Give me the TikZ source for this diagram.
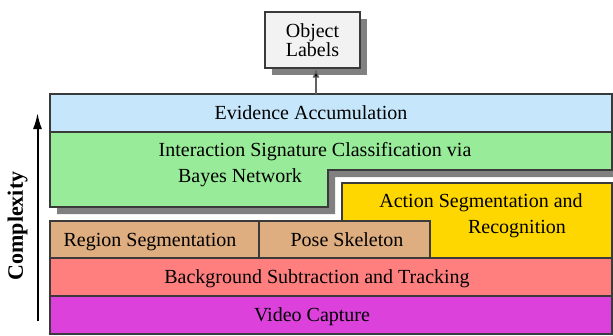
\documentclass[tikz,border=0pt]{standalone}
\usepackage{fontspec}
\setmainfont{Liberation Serif}
\usetikzlibrary{arrows.meta}
\usetikzlibrary{shadows}
\definecolor{evblue}{HTML}{C6E6FC}
\definecolor{isgreen}{HTML}{98EB98}
\definecolor{asyellow}{HTML}{FFD700}
\definecolor{segtan}{HTML}{DEAD80}
\definecolor{bgred}{HTML}{FF7F7F}
\definecolor{vidmag}{HTML}{DC41DC}
\definecolor{boxgray}{HTML}{F2F2F2}
\definecolor{shadegray}{HTML}{808080}
\definecolor{edgegray}{HTML}{3A3A3A}
\tikzset{Band/.style={fill=#1, draw=edgegray, line width=1.2pt},
         Label/.style={font=\fontsize{20}{22}\selectfont, inner sep=0pt, anchor=base},
         Shade/.style={drop shadow={shadow xshift=7pt, shadow yshift=-7pt, fill=shadegray, opacity=1}}}

\begin{document}
\begin{tikzpicture}[x=1pt, y=-1pt]
    \useasboundingbox (0,0) rectangle (613,335);
    % layers, bottom to top
    \draw[Band=vidmag] (50,296) rectangle (612,334);
    \draw[Band=bgred] (50,258) rectangle (612,296);
    \draw[Band=asyellow] (342,183) rectangle (612,258);
    \draw[Band=segtan] (50,221) rectangle (259,258);
    \draw[Band=segtan] (259,221) rectangle (430,258);
    \draw[Band=isgreen, Shade] (50,132) -- (612,132) -- (612,170) -- (328,170) -- (328,207) -- (50,207) -- cycle;
    \draw[Band=evblue] (50,94) rectangle (612,132);

    \node[Label] (ev) at (311,119.5) {Evidence Accumulation};
    \node[Label] (isc1) at (315,156) {Interaction Signature Classification via};
    \node[Label] (isc2) at (240,182) {Bayes Network};
    \node[Label] (as1) at (481,207) {Action Segmentation and};
    \node[Label] (as2) at (517,233) {Recognition};
    \node[Label] (rs) at (150,246) {Region Segmentation};
    \node[Label] (ps) at (347,246) {Pose Skeleton};
    \node[Label] (bst) at (317,283.5) {Background Subtraction and Tracking};
    \node[Label] (vc) at (312,321.5) {Video Capture};

    % output box
    \node[Band=boxgray, Shade, minimum width=95pt, minimum height=56pt, inner sep=0pt, align=center,
          font=\fontsize{20}{19}\selectfont] (obj) at (312.5,40) {Object\\Labels};
    \coordinate (evtop) at (316,94);
    \draw[draw=edgegray!80, line width=1.2pt, -{Latex[length=9pt,width=7pt,fill=black]}] (evtop) -- (evtop |- obj.south);

    % complexity axis
    \coordinate (cx0) at (37.5,321);
    \coordinate (cx1) at (37.5,113);
    \draw[line width=2pt, -{Latex[length=16pt,width=9pt]}] (cx0) -- (cx1);
    \node[font=\bfseries\fontsize{22}{24}\selectfont, rotate=90, anchor=base, inner sep=0pt] (cplx) at (23,226) {Complexity};
\end{tikzpicture}
\end{document}
